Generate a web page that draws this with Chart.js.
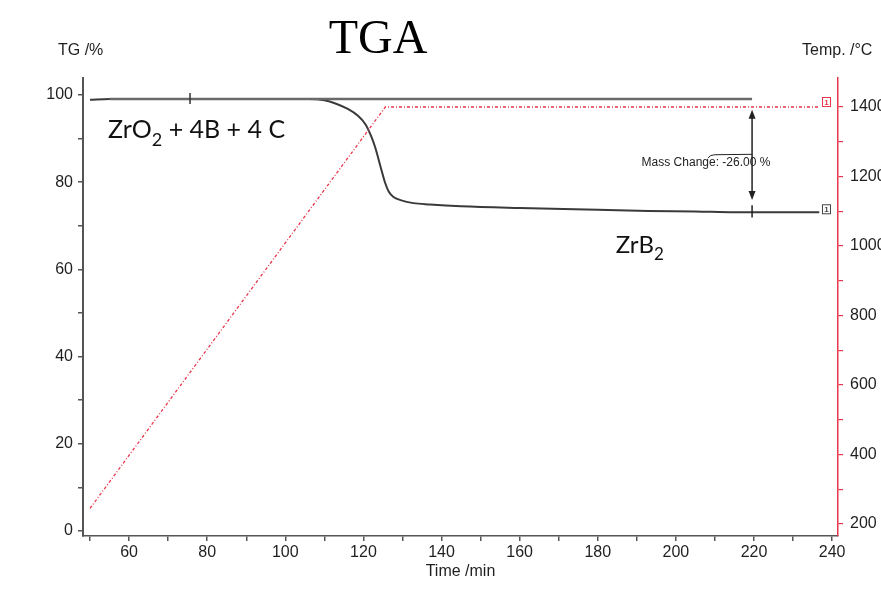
<!DOCTYPE html>
<html>
<head>
<meta charset="utf-8">
<title>TGA</title>
<script src="https://cdn.jsdelivr.net/npm/chart.js@4.4.1/dist/chart.umd.min.js"></script>
<style>
  html, body { margin: 0; padding: 0; background: #fff; }
  #wrap { width: 881px; height: 610px; position: relative; }
</style>
</head>
<body>
<div id="wrap"><canvas id="tga" width="881" height="610"></canvas></div>
<script>
'use strict';

// ── Data ────────────────────────────────────────────────────────────────────
// TG curve (mass %) against time (min)
const tgTime = [50, 55, 70, 90, 106, 110, 113, 116, 118.5, 120.5, 122, 123, 124.4, 125.5, 126.5, 127.7, 129.5, 132.8, 137, 145, 160, 180, 193, 205, 215, 225, 236.7];
const tgMass = [98.9, 99.1, 99.1, 99.1, 99.1, 98.8, 98.0, 96.8, 95.3, 93.3, 90.5, 88.0, 83.5, 80.0, 77.8, 76.6, 75.9, 75.2, 74.9, 74.5, 74.1, 73.7, 73.4, 73.3, 73.1, 73.1, 73.1];

// Temperature programme (°C) against time (min)
const tempTime  = [50, 125.6, 236.7];
const tempValue = [245, 1400, 1400];

// Start-mass reference line used for the mass change step
const refTime = [55, 219.5];
const refMass = [99.1, 99.1];

// Mass change step marker (TG %)
const stepTime = 219.5;
const stepFrom = 96.6;
const stepTo   = 75.9;
const massChangeText = 'Mass Change: -26.00 %';

// Tick values
const xTicks  = [50, 60, 70, 80, 90, 100, 110, 120, 130, 140, 150, 160, 170, 180, 190, 200, 210, 220, 230, 240];
const yTicks  = [0, 10, 20, 30, 40, 50, 60, 70, 80, 90, 100];
const y2Ticks = [200, 300, 400, 500, 600, 700, 800, 900, 1000, 1100, 1200, 1300, 1400];

// ── Colours / fonts ─────────────────────────────────────────────────────────
const INK    = '#1f1f1f';
const AXIS   = '#555';
const RED    = '#e8354b';
const SANS   = "'Liberation Sans', Arial, sans-serif";
const SERIF  = "'Liberation Serif', 'Times New Roman', serif";
const LABELF = "Lato, 'Open Sans', sans-serif";

const pts = (xs, ys) => xs.map((x, i) => ({ x, y: ys[i] }));
const fixTicks = (list) => (scale) => { scale.ticks = list.map(v => ({ value: v })); };

// ── Extra drawing: titles, formulas, step arrow, [1] markers ──────────────
const decorations = {
  id: 'decorations',
  afterDatasetsDraw(chart) {
    const { ctx, scales } = chart;
    const x = scales.x, y = scales.y, y2 = scales.y2;
    ctx.save();

    // title + axis titles
    ctx.fillStyle = '#000';
    ctx.textBaseline = 'alphabetic';
    ctx.textAlign = 'center';
    ctx.font = `48px ${SERIF}`;
    ctx.fillText('TGA', 378, 53);

    ctx.fillStyle = INK;
    ctx.font = `16px ${SANS}`;
    ctx.textAlign = 'left';
    ctx.fillText('TG /%', 58, 55);
    ctx.fillText('Temp. /°C', 802, 55);

    // formula with subscript
    const formula = (px, py, parts, size) => {
      ctx.textAlign = 'left';
      let cx = px;
      parts.forEach(([txt, sub]) => {
        ctx.font = `${sub ? Math.round(size * 0.7) : size}px ${LABELF}`;
        ctx.fillText(txt, cx, sub ? py + size * 0.3 : py);
        cx += ctx.measureText(txt).width;
      });
    };
    ctx.fillStyle = '#111';
    formula(x.getPixelForValue(54.6), y.getPixelForValue(90.1), [['ZrO'], ['2', true], [' + 4B + 4 C']], 25);
    formula(x.getPixelForValue(184.6), y.getPixelForValue(63.7), [['ZrB'], ['2', true]], 24);

    // small tick on the reference line
    ctx.strokeStyle = '#333';
    ctx.lineWidth = 1.5;
    const tx = x.getPixelForValue(75.6), ty = y.getPixelForValue(99.1);
    ctx.beginPath(); ctx.moveTo(tx, ty - 6); ctx.lineTo(tx, ty + 5); ctx.stroke();

    // step arrow
    const ax = x.getPixelForValue(stepTime);
    const aTop = y.getPixelForValue(stepFrom), aBot = y.getPixelForValue(stepTo);
    ctx.strokeStyle = '#222';
    ctx.fillStyle = '#222';
    ctx.lineWidth = 1.5;
    ctx.beginPath(); ctx.moveTo(ax, aTop + 4); ctx.lineTo(ax, aBot - 4); ctx.stroke();
    ctx.beginPath(); ctx.moveTo(ax, aTop); ctx.lineTo(ax - 3.5, aTop + 9); ctx.lineTo(ax + 3.5, aTop + 9); ctx.closePath(); ctx.fill();
    ctx.beginPath(); ctx.moveTo(ax, aBot); ctx.lineTo(ax - 3.5, aBot - 9); ctx.lineTo(ax + 3.5, aBot - 9); ctx.closePath(); ctx.fill();
    // tick across the TG curve at the step time
    ctx.beginPath(); ctx.moveTo(ax, y.getPixelForValue(74.7)); ctx.lineTo(ax, y.getPixelForValue(71.9)); ctx.stroke();

    // leader above the mass change text
    ctx.lineWidth = 1;
    ctx.beginPath();
    ctx.moveTo(x.getPixelForValue(208.2), y.getPixelForValue(85.5));
    ctx.quadraticCurveTo(x.getPixelForValue(208.6), y.getPixelForValue(86.3), x.getPixelForValue(210), y.getPixelForValue(86.3));
    ctx.lineTo(ax, y.getPixelForValue(86.4));
    ctx.stroke();

    ctx.font = `12px ${SANS}`;
    ctx.textAlign = 'center';
    ctx.fillStyle = '#222';
    ctx.fillText(massChangeText, x.getPixelForValue(207.7), y.getPixelForValue(83.7));

    // [1] end markers
    const marker = (px, py, col) => {
      ctx.strokeStyle = col; ctx.fillStyle = col; ctx.lineWidth = 1;
      ctx.strokeRect(px + 0.5, py - 5.5, 8, 9);
      ctx.font = `bold 8px ${SANS}`;
      ctx.textAlign = 'center';
      ctx.textBaseline = 'middle';
      ctx.fillText('1', px + 4.5, py - 0.5);
      ctx.textBaseline = 'alphabetic';
    };
    marker(x.getPixelForValue(237.4), y2.getPixelForValue(1400) - 4, RED);
    marker(x.getPixelForValue(237.4), y.getPixelForValue(73.1) - 2, '#444');

    ctx.restore();
  }
};

const tickFont = { family: SANS, size: 16 };

new Chart(document.getElementById('tga'), {
  type: 'line',
  data: {
    datasets: [
      {
        label: 'Temperature',
        data: pts(tempTime, tempValue),
        yAxisID: 'y2',
        borderColor: RED,
        borderWidth: 1.3,
        borderDash: [3, 2, 1, 2],
        pointRadius: 0,
        tension: 0,
      },
      {
        label: 'Reference',
        data: pts(refTime, refMass),
        yAxisID: 'y',
        borderColor: '#6a6a6a',
        borderWidth: 2.6,
        pointRadius: 0,
      },
      {
        label: 'TG',
        data: pts(tgTime, tgMass),
        yAxisID: 'y',
        borderColor: '#3a3a3a',
        borderWidth: 2,
        pointRadius: 0,
        cubicInterpolationMode: 'monotone',
      },
    ],
  },
  options: {
    responsive: false,
    devicePixelRatio: 1,
    animation: false,
    layout: { padding: { left: 0, right: 0, top: 78, bottom: 29 } },
    plugins: { legend: { display: false }, tooltip: { enabled: false }, title: { display: false } },
    scales: {
      x: {
        type: 'linear',
        min: 48.2,
        max: 241.5,
        afterBuildTicks: fixTicks(xTicks),
        afterFit: (s) => { s.height = 45; },
        grid: { drawOnChartArea: false, tickLength: 5, color: AXIS, lineWidth: 1.5 },
        border: { color: AXIS, width: 1.5 },
        ticks: {
          color: INK, font: tickFont, padding: 2, maxRotation: 0, autoSkip: false,
          callback: (v) => (v % 20 === 0 ? v : ''),
        },
        title: { display: true, text: 'Time /min', color: INK, font: { family: SANS, size: 16 }, padding: 0 },
      },
      y: {
        type: 'linear',
        position: 'left',
        min: -1.15,
        max: 103.9,
        afterBuildTicks: fixTicks(yTicks),
        afterFit: (s) => { s.width = 83; },
        grid: { drawOnChartArea: false, tickLength: 5, color: AXIS, lineWidth: 1.5 },
        border: { color: AXIS, width: 2 },
        ticks: {
          color: INK, font: tickFont, padding: 5, autoSkip: false,
          callback: (v) => (v % 20 === 0 ? v : ''),
        },
      },
      y2: {
        type: 'linear',
        position: 'right',
        min: 165.5,
        max: 1483.5,
        afterBuildTicks: fixTicks(y2Ticks),
        afterFit: (s) => { s.width = 43; },
        grid: { drawOnChartArea: false, tickLength: 5, color: RED, lineWidth: 1.2 },
        border: { color: RED, width: 1.5 },
        ticks: {
          color: INK, font: tickFont, padding: 7, autoSkip: false,
          callback: (v) => (v % 200 === 0 ? v : ''),
        },
      },
    },
  },
  plugins: [decorations],
});
</script>
</body>
</html>
